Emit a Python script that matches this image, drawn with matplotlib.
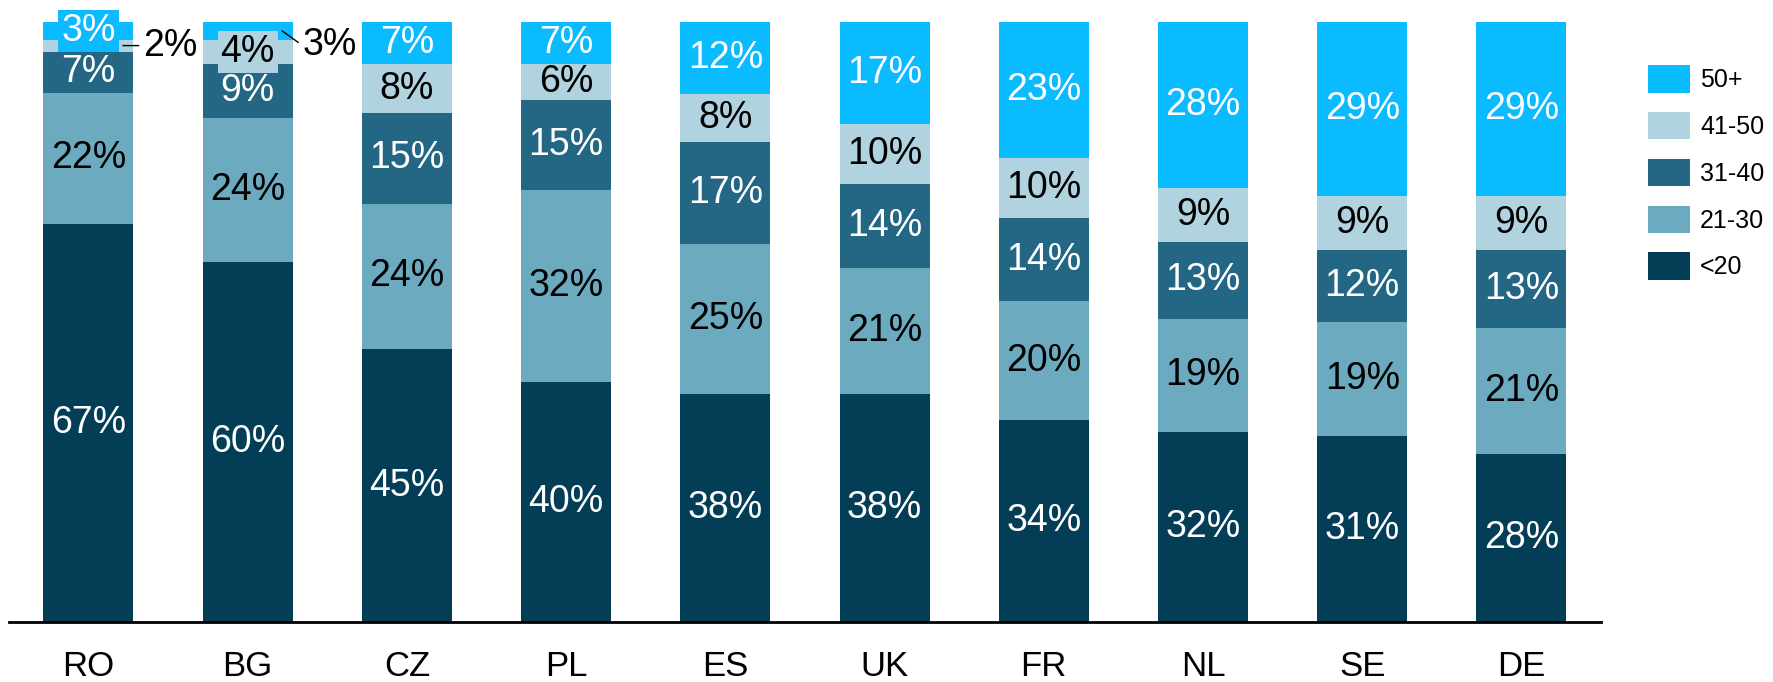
import matplotlib
matplotlib.use("Agg")
import matplotlib.pyplot as plt
import numpy as np

plt.rcParams["font.family"] = ["Liberation Sans Narrow", "Liberation Sans", "DejaVu Sans"]

countries = ["RO", "BG", "CZ", "PL", "ES", "UK", "FR", "NL", "SE", "DE"]
groups = ["<20", "21-30", "31-40", "41-50", "50+"]
under20 = [67, 60, 45, 40, 38, 38, 34, 32, 31, 28]
age21_30 = [22, 24, 24, 32, 25, 21, 20, 19, 19, 21]
age31_40 = [7, 9, 15, 15, 17, 14, 14, 13, 12, 13]
age41_50 = [2, 4, 8, 6, 8, 10, 10, 9, 9, 9]
age50p = [3, 3, 7, 7, 12, 17, 23, 28, 29, 29]

colors = ["#033e56", "#6baabf", "#246784", "#b0d3df", "#0bbbff"]
text_colors = ["white", "black", "white", "black", "white"]

series = np.array([under20, age21_30, age31_40, age41_50, age50p], dtype=float)
shares = series / series.sum(axis=0) * 100

fig = plt.figure(figsize=(17.74, 6.82), dpi=100)
ax = fig.add_axes([0.005, 0.088, 0.8975, 0.88])

x = np.arange(len(countries))
width = 0.565
fs = 27
bottom = np.zeros(len(countries))
for k, grp in enumerate(groups):
    ax.bar(x, shares[k], width, bottom=bottom, color=colors[k], label=grp, linewidth=0)
    centers = bottom + shares[k] / 2
    for i in range(len(countries)):
        val = int(series[k, i])
        cy = centers[i]
        if countries[i] == "RO" and grp == "41-50":
            ax.annotate(f"{val}%", xy=(i + 0.216, cy), xytext=(i + 0.342, cy),
                        ha="left", va="center", fontsize=fs, color="black",
                        arrowprops=dict(arrowstyle="-", color="black", lw=1,
                                        relpos=(0, 0.5), shrinkA=1, shrinkB=0))
        elif countries[i] == "BG" and grp == "50+":
            ax.annotate(f"{val}%", xy=(i + 0.216, cy), xytext=(i + 0.342, cy - 2.4),
                        ha="left", va="center", fontsize=fs, color="black",
                        arrowprops=dict(arrowstyle="-", color="black", lw=1,
                                        relpos=(0, 0.5), shrinkA=1, shrinkB=0))
        elif (countries[i] == "RO" and grp == "50+") or (countries[i] == "BG" and grp == "41-50"):
            ax.text(i, cy, f"{val}%", ha="center", va="center", fontsize=fs,
                    color=text_colors[k],
                    bbox=dict(boxstyle="square,pad=0.08", fc=colors[k], ec="none"))
        else:
            ax.text(i, cy, f"{val}%", ha="center", va="center", fontsize=fs,
                    color=text_colors[k])
    bottom += shares[k]

ax.set_xlim(-0.5, len(countries) - 0.5)
ax.set_ylim(0, 100)
ax.set_xticks(x)
ax.set_xticklabels(countries, fontsize=25)
ax.tick_params(axis="x", length=0, pad=20)
ax.set_yticks([])
for s in ["top", "right", "left"]:
    ax.spines[s].set_visible(False)
ax.spines["bottom"].set_linewidth(2)

handles, labels = ax.get_legend_handles_labels()
fig.legend(handles[::-1], labels[::-1], loc="upper left",
           bbox_to_anchor=(0.929, 0.904), frameon=False, fontsize=18,
           borderpad=0, borderaxespad=0, handlelength=1.68, handleheight=1.3,
           handletextpad=0.4, labelspacing=0.78)

fig.savefig("out.png", dpi=100)
